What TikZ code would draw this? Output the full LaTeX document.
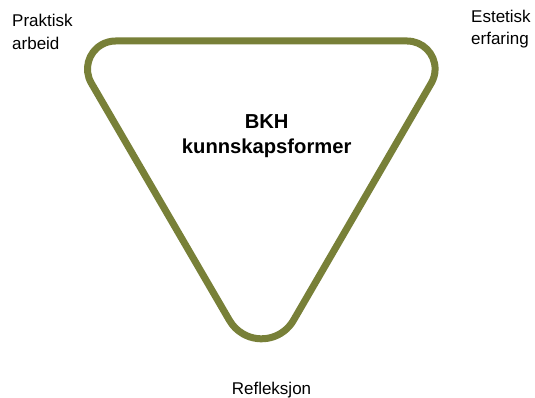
\documentclass[tikz,border=0pt]{standalone}
\usepackage{fontspec}
\setmainfont{Liberation Sans}
\definecolor{olivestroke}{RGB}{120,128,56}
\begin{document}
\begin{tikzpicture}[x=1pt,y=1pt,
  label/.style={inner sep=0pt,align=left,font=\fontsize{17}{22.5}\selectfont},
  title/.style={inner sep=0pt,align=center,font=\fontsize{20.2}{25}\selectfont\bfseries}]
\useasboundingbox[fill=white] (0,0) rectangle (535,398);
\draw[olivestroke,line width=7pt,line join=round]
  (115.5,357) -- (407.1,357) arc[start angle=90,end angle=-30,radius=28]
  -- (293.5,77.7) arc[start angle=-30,end angle=-150,radius=37]
  -- (91.25,315) arc[start angle=210,end angle=90,radius=28] -- cycle;
\node[label,anchor=base west] (pa) at (12,348.5) {Praktisk\\arbeid};
\node[label,anchor=base west] (ee) at (471,353) {Estetisk\\erfaring};
\node[label,anchor=base] (re) at (271.5,3) {Refleksjon};
\node[title,anchor=base] (bkh) at (266.7,244.7) {BKH\\kunnskapsformer};
\end{tikzpicture}
\end{document}
